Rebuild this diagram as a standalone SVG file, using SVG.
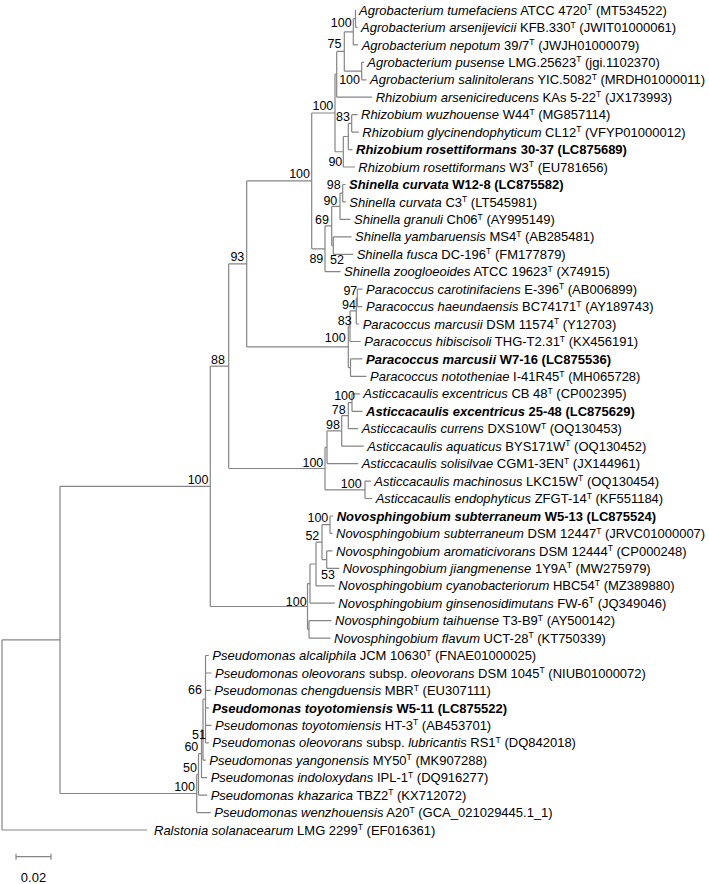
<svg xmlns="http://www.w3.org/2000/svg" width="709" height="884" viewBox="0 0 709 884">
<style>
.l{fill:none;stroke:#858585;stroke-width:1.2}
.t{font-family:"Liberation Sans",Arial,sans-serif;font-size:13px;fill:#000}
.b{font-weight:bold}
.i{font-style:italic}
.s{font-size:8.5px}
.n{font-family:"Liberation Sans",Arial,sans-serif;font-size:12.5px;fill:#000;text-anchor:end}
</style>
<rect width="709" height="884" fill="#fff"/>
<g id="connectors" class="l">
<path d="M2,639.9V830M2,830H147M2,639.9H60M60,486.35V793.5M60,486.35H210.3M60,793.5H196.7M210.3,366.2V606.5M210.3,366.2H228.7M210.3,606.5H307.5M228.7,263.9V468.5M228.7,263.9H246.7M228.7,468.5H325M246.7,180.9V346.9M246.7,180.9H311.7M246.7,346.9H348.3"/>
<path d="M311.7,113V248.8M311.7,113H335M311.7,248.8H325M335,74.3V151.75M335,74.3H336.7M335,151.75H343.3M336.7,51.4V97.2M336.7,51.4H344.3M336.7,97.2H372M344.3,31.8V71.05M344.3,31.8H353.3M344.3,71.05H361.7M353.3,18.7V44.9M353.3,18.7H355.5M353.3,44.9H358M355.5,10V27.4M355.5,10H356M355.5,27.4H357.5M361.7,62.3V79.8M361.7,62.3H364M361.7,79.8H366.5M343.3,136.5V167M343.3,136.5H348.3M343.3,167H355M348.3,123.4V149.6M348.3,123.4H351.7M348.3,149.6H352.5M351.7,114.7V132.1M351.7,114.7H357.5M351.7,132.1H358.8"/>
<path d="M325,225.9V271.7M325,225.9H331.7M325,271.7H340.5M331.7,206.3V245.55M331.7,206.3H340M331.7,245.55H333.3M340,193.2V219.4M340,193.2H342.7M340,219.4H350.5M342.7,184.5V201.9M342.7,184.5H345.5M342.7,201.9H345.8M333.3,236.8V254.3M333.3,236.8H351.5M333.3,254.3H353.2"/>
<path d="M348.3,326.2V367.65M348.3,326.2H350M348.3,367.65H350.5M350,310.95V341.5M350,310.95H356.3M350,341.5H360.8M356.3,297.9V324M356.3,297.9H357.3M356.3,324H359.2M357.3,289.2V306.6M357.3,289.2H362.5M357.3,306.6H362.5M350.5,358.9V376.4M350.5,358.9H362.5M350.5,376.4H366.5"/>
<path d="M325,447.25V489.8M325,447.25H327M325,489.8H365M327,430.9V463.6M327,430.9H341.7M327,463.6H358.2M341.7,415.6V446.2M341.7,415.6H348.3M341.7,446.2H363.8M348.3,402.55V428.7M348.3,402.55H352M348.3,428.7H358.2M352,393.8V411.3M352,393.8H359.8M352,411.3H362.5M365,481.1V498.5M365,481.1H370.8M365,498.5H372.2"/>
<path d="M307.5,583.6V629.35M307.5,583.6H310M307.5,629.35H309M310,564V603.2M310,564H316M310,603.2H334.8M316,542.15V585.8M316,542.15H322M316,585.8H334.8M322,524.7V559.6M322,524.7H330M322,559.6H326.7M330,516V533.4M330,516H333.2M330,533.4H332.5M326.7,550.9V568.3M326.7,550.9H332.5M326.7,568.3H339.2M309,620.6V638.1M309,620.6H331.5M309,638.1H330.5"/>
<path d="M196.7,774.4V812.6M196.7,774.4H198.5M196.7,812.6H210.8M198.5,753.7V795.1M198.5,753.7H201.5M198.5,795.1H207.2M201.5,729.7V777.7M201.5,729.7H203M201.5,777.7H207.2M203,699.15V760.2M203,699.15H205.5M203,760.2H205.8M205.5,655.5V742.8M205.5,655.5H208.8M205.5,673H211.5M205.5,690.4H210.8M205.5,707.9H208.8M205.5,725.3H211.5M205.5,742.8H208.8"/>
<path d="M16,856.7H51M16,853.7V859.7M51,853.7V859.7"/>
</g>
<g id="bootstrap">
<text class="n" x="208.5" y="483.9">100</text>
<text class="n" x="225" y="363.9">88</text>
<text class="n" x="244.3" y="261.1">93</text>
<text class="n" x="310" y="178.4">100</text>
<text class="n" x="333.3" y="110.4">100</text>
<text class="n" x="341.5" y="47.7">75</text>
<text class="n" x="351.7" y="26.7">100</text>
<text class="n" x="360" y="84.4">100</text>
<text class="n" x="350" y="121.1">83</text>
<text class="n" x="342.3" y="166.1">90</text>
<text class="n" x="340.7" y="189.4">98</text>
<text class="n" x="337.3" y="205.1">90</text>
<text class="n" x="329" y="223.7">69</text>
<text class="n" x="323.3" y="262.7">89</text>
<text class="n" x="344" y="264.4">52</text>
<text class="n" x="357.3" y="295.1">97</text>
<text class="n" x="356" y="308.9">94</text>
<text class="n" x="351.7" y="325.1">83</text>
<text class="n" x="345.7" y="341.7">100</text>
<text class="n" x="355" y="400.1">100</text>
<text class="n" x="345.7" y="413.7">78</text>
<text class="n" x="340" y="428.7">98</text>
<text class="n" x="323.3" y="466.7">100</text>
<text class="n" x="361.7" y="487.7">100</text>
<text class="n" x="328.3" y="522.1">100</text>
<text class="n" x="319.3" y="540.1">52</text>
<text class="n" x="335" y="579.4">53</text>
<text class="n" x="306.7" y="606.1">100</text>
<text class="n" x="202" y="694.4">66</text>
<text class="n" x="206" y="739.4">51</text>
<text class="n" x="198.3" y="750.9">60</text>
<text class="n" x="197" y="772.4">50</text>
<text class="n" x="195" y="791.1">100</text>
</g>
<g id="taxa" class="t">
<g id="t01"><text x="359" y="14.6"><tspan class="i">Agrobacterium tumefaciens</tspan> ATCC 4720<tspan class="s" dy="-4.5">T</tspan><tspan dy="4.5"> (MT534522)</tspan></text></g>
<g id="t02"><text x="361" y="32"><tspan class="i">Agrobacterium arsenijevicii</tspan> KFB.330<tspan class="s" dy="-4.5">T</tspan><tspan dy="4.5"> (JWIT01000061)</tspan></text></g>
<g id="t03"><text x="361.7" y="49.5"><tspan class="i">Agrobacterium nepotum</tspan> 39/7<tspan class="s" dy="-4.5">T</tspan><tspan dy="4.5"> (JWJH01000079)</tspan></text></g>
<g id="t04"><text x="367.3" y="66.9"><tspan class="i">Agrobacterium pusense</tspan> LMG.25623<tspan class="s" dy="-4.5">T</tspan><tspan dy="4.5"> (jgi.1102370)</tspan></text></g>
<g id="t05"><text x="370" y="84.4"><tspan class="i">Agrobacterium salinitolerans</tspan> YIC.5082<tspan class="s" dy="-4.5">T</tspan><tspan dy="4.5"> (MRDH01000011)</tspan></text></g>
<g id="t06"><text x="375.7" y="101.8"><tspan class="i">Rhizobium arsenicireducens</tspan> KAs 5-22<tspan class="s" dy="-4.5">T</tspan><tspan dy="4.5"> (JX173993)</tspan></text></g>
<g id="t07"><text x="361" y="119.3"><tspan class="i">Rhizobium wuzhouense</tspan> W44<tspan class="s" dy="-4.5">T</tspan><tspan dy="4.5"> (MG857114)</tspan></text></g>
<g id="t08"><text x="362.3" y="136.7"><tspan class="i">Rhizobium glycinendophyticum</tspan> CL12<tspan class="s" dy="-4.5">T</tspan><tspan dy="4.5"> (VFYP01000012)</tspan></text></g>
<g id="t09"><text class="b" x="356" y="154.2"><tspan class="i">Rhizobium rosettiformans</tspan> 30-37 (LC875689)</text></g>
<g id="t10"><text x="358.3" y="171.6"><tspan class="i">Rhizobium rosettiformans</tspan> W3<tspan class="s" dy="-4.5">T</tspan><tspan dy="4.5"> (EU781656)</tspan></text></g>
<g id="t11"><text class="b" x="349" y="189.1"><tspan class="i">Shinella curvata</tspan> W12-8 (LC875582)</text></g>
<g id="t12"><text x="349.3" y="206.5"><tspan class="i">Shinella curvata</tspan> C3<tspan class="s" dy="-4.5">T</tspan><tspan dy="4.5"> (LT545981)</tspan></text></g>
<g id="t13"><text x="354" y="224"><tspan class="i">Shinella granuli</tspan> Ch06<tspan class="s" dy="-4.5">T</tspan><tspan dy="4.5"> (AY995149)</tspan></text></g>
<g id="t14"><text x="355" y="241.4"><tspan class="i">Shinella yambaruensis</tspan> MS4<tspan class="s" dy="-4.5">T</tspan><tspan dy="4.5"> (AB285481)</tspan></text></g>
<g id="t15"><text x="356.7" y="258.9"><tspan class="i">Shinella fusca</tspan> DC-196<tspan class="s" dy="-4.5">T</tspan><tspan dy="4.5"> (FM177879)</tspan></text></g>
<g id="t16"><text x="344" y="276.3"><tspan class="i">Shinella zoogloeoides</tspan> ATCC 19623<tspan class="s" dy="-4.5">T</tspan><tspan dy="4.5"> (X74915)</tspan></text></g>
<g id="t17"><text x="366" y="293.8"><tspan class="i">Paracoccus carotinifaciens</tspan> E-396<tspan class="s" dy="-4.5">T</tspan><tspan dy="4.5"> (AB006899)</tspan></text></g>
<g id="t18"><text x="366" y="311.2"><tspan class="i">Paracoccus haeundaensis</tspan> BC74171<tspan class="s" dy="-4.5">T</tspan><tspan dy="4.5"> (AY189743)</tspan></text></g>
<g id="t19"><text x="362.7" y="328.6"><tspan class="i">Paracoccus marcusii</tspan> DSM 11574<tspan class="s" dy="-4.5">T</tspan><tspan dy="4.5"> (Y12703)</tspan></text></g>
<g id="t20"><text x="364.3" y="346.1"><tspan class="i">Paracoccus hibiscisoli</tspan> THG-T2.31<tspan class="s" dy="-4.5">T</tspan><tspan dy="4.5"> (KX456191)</tspan></text></g>
<g id="t21"><text class="b" x="366" y="363.5"><tspan class="i">Paracoccus marcusii</tspan> W7-16 (LC875536)</text></g>
<g id="t22"><text x="370" y="381"><tspan class="i">Paracoccus nototheniae</tspan> I-41R45<tspan class="s" dy="-4.5">T</tspan><tspan dy="4.5"> (MH065728)</tspan></text></g>
<g id="t23"><text x="363.3" y="398.4"><tspan class="i">Asticcacaulis excentricus</tspan> CB 48<tspan class="s" dy="-4.5">T</tspan><tspan dy="4.5"> (CP002395)</tspan></text></g>
<g id="t24"><text class="b" x="366" y="415.9"><tspan class="i">Asticcacaulis excentricus</tspan> 25-48 (LC875629)</text></g>
<g id="t25"><text x="361.7" y="433.3"><tspan class="i">Asticcacaulis currens</tspan> DXS10W<tspan class="s" dy="-4.5">T</tspan><tspan dy="4.5"> (OQ130453)</tspan></text></g>
<g id="t26"><text x="367.3" y="450.8"><tspan class="i">Asticcacaulis aquaticus</tspan> BYS171W<tspan class="s" dy="-4.5">T</tspan><tspan dy="4.5"> (OQ130452)</tspan></text></g>
<g id="t27"><text x="361.7" y="468.2"><tspan class="i">Asticcacaulis solisilvae</tspan> CGM1-3EN<tspan class="s" dy="-4.5">T</tspan><tspan dy="4.5"> (JX144961)</tspan></text></g>
<g id="t28"><text x="374.3" y="485.7"><tspan class="i">Asticcacaulis machinosus</tspan> LKC15W<tspan class="s" dy="-4.5">T</tspan><tspan dy="4.5"> (OQ130454)</tspan></text></g>
<g id="t29"><text x="375.7" y="503.1"><tspan class="i">Asticcacaulis endophyticus</tspan> ZFGT-14<tspan class="s" dy="-4.5">T</tspan><tspan dy="4.5"> (KF551184)</tspan></text></g>
<g id="t30"><text class="b" x="336.7" y="520.6"><tspan class="i">Novosphingobium subterraneum</tspan> W5-13 (LC875524)</text></g>
<g id="t31"><text x="336" y="538"><tspan class="i">Novosphingobium subterraneum</tspan> DSM 12447<tspan class="s" dy="-4.5">T</tspan><tspan dy="4.5"> (JRVC01000007)</tspan></text></g>
<g id="t32"><text x="336" y="555.5"><tspan class="i">Novosphingobium aromaticivorans</tspan> DSM 12444<tspan class="s" dy="-4.5">T</tspan><tspan dy="4.5"> (CP000248)</tspan></text></g>
<g id="t33"><text x="342.7" y="572.9"><tspan class="i">Novosphingobium jiangmenense</tspan> 1Y9A<tspan class="s" dy="-4.5">T</tspan><tspan dy="4.5"> (MW275979)</tspan></text></g>
<g id="t34"><text x="338.3" y="590.4"><tspan class="i">Novosphingobium cyanobacteriorum</tspan> HBC54<tspan class="s" dy="-4.5">T</tspan><tspan dy="4.5"> (MZ389880)</tspan></text></g>
<g id="t35"><text x="338.3" y="607.8"><tspan class="i">Novosphingobium ginsenosidimutans</tspan> FW-6<tspan class="s" dy="-4.5">T</tspan><tspan dy="4.5"> (JQ349046)</tspan></text></g>
<g id="t36"><text x="335" y="625.2"><tspan class="i">Novosphingobium taihuense</tspan> T3-B9<tspan class="s" dy="-4.5">T</tspan><tspan dy="4.5"> (AY500142)</tspan></text></g>
<g id="t37"><text x="334" y="642.7"><tspan class="i">Novosphingobium flavum</tspan> UCT-28<tspan class="s" dy="-4.5">T</tspan><tspan dy="4.5"> (KT750339)</tspan></text></g>
<g id="t38"><text x="212.3" y="660.1"><tspan class="i">Pseudomonas alcaliphila</tspan> JCM 10630<tspan class="s" dy="-4.5">T</tspan><tspan dy="4.5"> (FNAE01000025)</tspan></text></g>
<g id="t39"><text x="215" y="677.6"><tspan class="i">Pseudomonas oleovorans</tspan> subsp. <tspan class="i">oleovorans</tspan> DSM 1045<tspan class="s" dy="-4.5">T</tspan><tspan dy="4.5"> (NIUB01000072)</tspan></text></g>
<g id="t40"><text x="214.3" y="695"><tspan class="i">Pseudomonas chengduensis</tspan> MBR<tspan class="s" dy="-4.5">T</tspan><tspan dy="4.5"> (EU307111)</tspan></text></g>
<g id="t41"><text class="b" x="212.3" y="712.5"><tspan class="i">Pseudomonas toyotomiensis</tspan> W5-11 (LC875522)</text></g>
<g id="t42"><text x="215" y="729.9"><tspan class="i">Pseudomonas toyotomiensis</tspan> HT-3<tspan class="s" dy="-4.5">T</tspan><tspan dy="4.5"> (AB453701)</tspan></text></g>
<g id="t43"><text x="212.3" y="747.4"><tspan class="i">Pseudomonas oleovorans</tspan> subsp. <tspan class="i">lubricantis</tspan> RS1<tspan class="s" dy="-4.5">T</tspan><tspan dy="4.5"> (DQ842018)</tspan></text></g>
<g id="t44"><text x="209.3" y="764.8"><tspan class="i">Pseudomonas yangonensis</tspan> MY50<tspan class="s" dy="-4.5">T</tspan><tspan dy="4.5"> (MK907288)</tspan></text></g>
<g id="t45"><text x="210.7" y="782.3"><tspan class="i">Pseudomonas indoloxydans</tspan> IPL-1<tspan class="s" dy="-4.5">T</tspan><tspan dy="4.5"> (DQ916277)</tspan></text></g>
<g id="t46"><text x="210.7" y="799.7"><tspan class="i">Pseudomonas khazarica</tspan> TBZ2<tspan class="s" dy="-4.5">T</tspan><tspan dy="4.5"> (KX712072)</tspan></text></g>
<g id="t47"><text x="214.3" y="817.2"><tspan class="i">Pseudomonas wenzhouensis</tspan> A20<tspan class="s" dy="-4.5">T</tspan><tspan dy="4.5"> (GCA_021029445.1_1)</tspan></text></g>
<g id="t48"><text x="154" y="834.6"><tspan class="i">Ralstonia solanacearum</tspan> LMG 2299<tspan class="s" dy="-4.5">T</tspan><tspan dy="4.5"> (EF016361)</tspan></text></g>
</g>
<g id="scale"><text class="t" x="33.5" y="882" text-anchor="middle">0.02</text></g>
</svg>
